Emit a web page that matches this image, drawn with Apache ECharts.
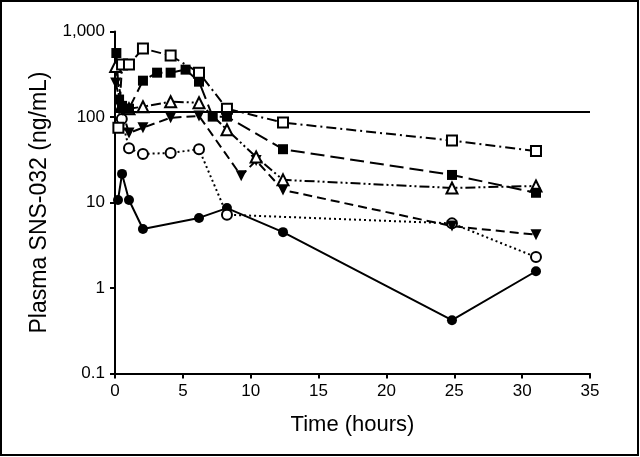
<!DOCTYPE html>
<html>
<head>
<meta charset="utf-8">
<script src="https://cdn.jsdelivr.net/npm/echarts@6/dist/echarts.min.js"></script>
<style>
html,body{margin:0;padding:0;background:#fff;}
#chart{width:640px;height:457px;}
</style>
</head>
<body>
<div id="chart"></div>
<script>
// ---- data (x in hours as placed on the axis, y in ng/mL) ----
const xTicks = [0, 5, 10, 15, 20, 25, 30, 35];
const yTicks = [0.1, 1, 10, 100, 1000];
const threshold = 114;

const timeA = [0.22, 0.52, 1.03, 2.06, 6.19, 8.25, 12.38, 24.83, 31.02];
const concA = [10.7, 21.6, 10.7, 4.9, 6.6, 8.6, 4.5, 0.42, 1.57];

const timeB = [0.5, 1.03, 2.06, 4.1, 6.19, 8.25, 24.83, 31.02];
const concB = [95, 43, 37, 38, 42, 7.2, 5.7, 2.3];

const timeC = [0.05, 0.52, 1.03, 2.06, 4.1, 6.19, 9.3, 10.4, 12.38, 24.83, 31.02];
const concC = [250, 120, 65, 75, 98, 103, 20.5, 31, 14, 5.3, 4.2];

const timeD = [0.05, 0.52, 1.03, 2.06, 4.1, 6.19, 8.25, 10.4, 12.38, 24.83, 31.02];
const concD = [390, 140, 125, 132, 151, 147, 71, 34, 18.4, 14.8, 15.6];

const timeE = [0.1, 0.3, 0.52, 1.03, 2.06, 3.1, 4.1, 5.2, 6.19, 7.2, 8.25, 12.38, 24.83, 31.02];
const concE = [560, 160, 135, 125, 266, 330, 330, 358, 259, 101, 101, 42, 21, 13];

const timeF = [0.25, 0.52, 1.03, 2.06, 4.1, 6.19, 8.25, 12.38, 24.83, 31.02];
const concF = [75, 410, 410, 632, 523, 330, 125, 86, 53, 40];

function pts(t, c) { return t.map((x, i) => [x, c[i]]); }

const chart = echarts.init(document.getElementById('chart'), null, {renderer: 'canvas'});

const tickFont = "'Liberation Sans', Arial, sans-serif";
const titleFont = "'Liberation Sans', Arial, sans-serif";

function mk(name, data, symbol, filled, dash, rotate) {
  return {
    name: name,
    type: 'line',
    data: data,
    symbol: symbol,
    symbolSize: symbol === 'triangle' ? 11 : 10,
    symbolRotate: rotate || 0,
    showAllSymbol: true,
    lineStyle: {color: '#000', width: 2, type: dash},
    itemStyle: {color: filled ? '#000' : '#fff', borderColor: '#000', borderWidth: filled ? 0 : 2, opacity: 1},
    emphasis: {disabled: true},
    animation: false
  };
}

const option = {
  backgroundColor: '#fff',
  animation: false,
  graphic: [{
    type: 'rect',
    shape: {x: 1, y: 1, width: 637, height: 454},
    style: {fill: 'none', stroke: '#000', lineWidth: 2},
    silent: true
  }],
  grid: {left: 115, right: 50, top: 31.5, bottom: 83.5},
  xAxis: {
    type: 'value',
    min: 0, max: 35, interval: 5,
    name: 'Time (hours)',
    nameLocation: 'middle',
    nameGap: 40,
    nameTextStyle: {fontFamily: titleFont, fontSize: 22, color: '#000'},
    axisLine: {show: true, onZero: false, lineStyle: {color: '#000', width: 2}},
    axisTick: {show: true, length: 5, lineStyle: {color: '#000', width: 2}},
    axisLabel: {color: '#000', fontFamily: tickFont, fontSize: 17, margin: 9,
      formatter: v => xTicks.includes(v) ? String(v) : ''},
    splitLine: {show: false}
  },
  yAxis: {
    type: 'log',
    logBase: 10,
    min: 0.1, max: 1000,
    name: 'Plasma SNS-032 (ng/mL)',
    nameLocation: 'middle',
    nameGap: 58,
    nameTextStyle: {fontFamily: titleFont, fontSize: 23, color: '#000'},
    axisLine: {show: true, onZero: false, lineStyle: {color: '#000', width: 2}},
    axisTick: {show: true, length: 5, lineStyle: {color: '#000', width: 2}},
    minorTick: {show: false},
    axisLabel: {color: '#000', fontFamily: tickFont, fontSize: 17, margin: 10,
      formatter: v => {
        const m = yTicks.find(t => Math.abs(t - v) / t < 1e-6);
        return m === undefined ? '' : m.toLocaleString('en-US');
      }},
    splitLine: {show: false}
  },
  series: [
    Object.assign(mk('threshold', [], 'none', true, 'solid'), {
      markLine: {
        silent: true, symbol: 'none', animation: false,
        label: {show: false},
        lineStyle: {color: '#000', width: 2, type: 'solid'},
        data: [{yAxis: threshold}]
      }
    }),
    mk('A', pts(timeA, concA), 'circle', true, 'solid'),
    mk('B', pts(timeB, concB), 'circle', false, [2, 3]),
    mk('C', pts(timeC, concC), 'triangle', true, [9, 5], 180),
    mk('D', pts(timeD, concD), 'triangle', false, [10, 3, 2, 3, 2, 3]),
    mk('E', pts(timeE, concE), 'rect', true, [14, 6]),
    mk('F', pts(timeF, concF), 'rect', false, [10, 4, 2, 4])
  ]
};
chart.setOption(option);
</script>
</body>
</html>
